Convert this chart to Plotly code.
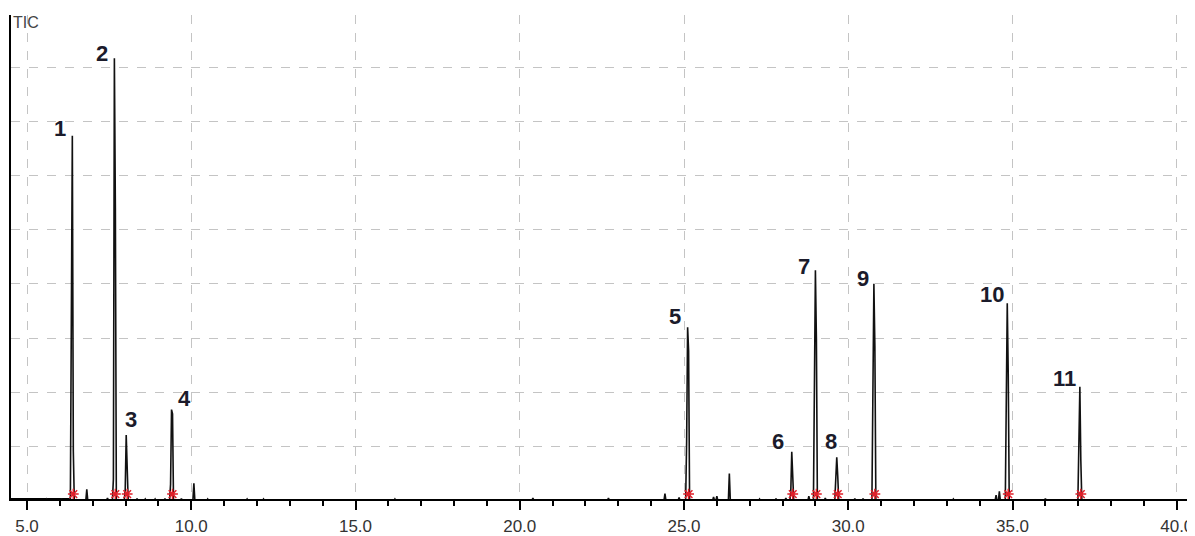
import plotly.graph_objects as go

# ---- data (retention time in min, TIC intensity in arbitrary units) ----
peak_labels = ["1", "2", "3", "4", "5", "6", "7", "8", "9", "10", "11"]
peak_rt = [6.38, 7.66, 8.02, 9.40, 25.11, 28.28, 29.00, 29.65, 30.78, 34.84, 37.05]
peak_apex = [6.73, 8.16, 1.21, 1.68, 3.20, 0.90, 4.25, 0.80, 4.00, 3.64, 2.10]
peak_left = [4.02, 0.40, 0.20, 0.30, 1.10, 0.15, 2.38, 0.30, 2.38, 2.19, 1.24]
peak_right = [0.91, 5.40, 0.57, 1.60, 2.76, 0.30, 2.98, 0.45, 2.86, 2.34, 0.73]

minor_rt = [5.6, 6.05, 6.82, 7.45, 8.35, 8.6, 8.9, 9.2, 9.7, 10.08, 10.5, 11.7, 12.2,
            16.2, 20.4, 22.7, 24.42, 24.85, 25.9, 26.0, 26.38, 27.3, 27.8, 28.1, 28.8,
            29.3, 30.2, 30.45, 33.2, 34.5, 34.60, 36.0]
minor_h = [0.03, 0.04, 0.21, 0.05, 0.04, 0.03, 0.03, 0.04, 0.04, 0.32, 0.03, 0.03, 0.03,
           0.03, 0.05, 0.05, 0.13, 0.06, 0.07, 0.08, 0.50, 0.03, 0.04, 0.05, 0.08,
           0.05, 0.04, 0.04, 0.03, 0.10, 0.17, 0.04]

x_ticks = [5, 10, 15, 20, 25, 30, 35, 40]
x_tick_text = ["5.0", "10.0", "15.0", "20.0", "25.0", "30.0", "35.0", "40.0"]

# label offsets in pixels (dx, dy up) relative to the apex
label_dx = [-12, -12, 5, 13, -13, -14, -11, -6, -11, -15, -15]
label_dy = [7, 5, 16, 11, 11, 10, 4, 16, 5, 9, 8]

# ---- build chromatogram spikes ----
dt = 0.03
xs, ys = [], []
for rt, a, l, r in zip(peak_rt, peak_apex, peak_left, peak_right):
    xs += [rt - 2 * dt, rt - dt, rt, rt + dt, rt + 2 * dt, None]
    ys += [0, l, a, r, 0, None]
for rt, h in zip(minor_rt, minor_h):
    xs += [rt - dt, rt, rt + dt, None]
    ys += [0, h, 0, None]

fig = go.Figure()
# baseline noise at the start
fig.add_trace(go.Scatter(x=[4.5, 6.3], y=[0.03, 0.03], mode="lines",
                         line=dict(color="black", width=2), hoverinfo="skip"))
fig.add_trace(go.Scatter(x=xs, y=ys, mode="lines",
                         line=dict(color="#111111", width=1.6), hoverinfo="skip"))
# integration markers
fig.add_trace(go.Scatter(x=[r + 0.03 for r in peak_rt], y=[0.12] * len(peak_rt),
                         mode="markers",
                         marker=dict(symbol="asterisk-open", size=9, color="#e0202a",
                                     line=dict(color="#e0202a", width=1.5)),
                         hoverinfo="skip"))

for lab, rt, a, dx, dy in zip(peak_labels, peak_rt, peak_apex, label_dx, label_dy):
    fig.add_annotation(x=rt, y=a, text="<b>" + lab + "</b>", showarrow=False,
                       xanchor="center", yanchor="middle", xshift=dx, yshift=dy,
                       font=dict(family="Liberation Sans", size=22, color="#1b1b2b"))

fig.add_annotation(xref="paper", yref="paper", x=0, y=1, text="TIC", showarrow=False,
                   xanchor="left", yanchor="top", xshift=0, yshift=3,
                   font=dict(family="Liberation Sans", size=16, color="#444444"))

tick_font = dict(family="Liberation Sans", size=17, color="#333333")

# page body has an 8px margin: shrink the figure and margins to compensate
fig.update_layout(
    width=1187, height=528,
    margin=dict(l=3, r=0, t=7, b=33),
    paper_bgcolor="white", plot_bgcolor="white",
    showlegend=False,
    xaxis=dict(range=[4.513, 40.555], tickvals=x_ticks, ticktext=x_tick_text,
               showline=True, linecolor="black", linewidth=2,
               ticks="outside", ticklen=9, tickwidth=1.5, tickcolor="black",
               minor=dict(dtick=1, tick0=0, ticks="outside", ticklen=5,
                          tickcolor="black", showgrid=False),
               showgrid=True, gridcolor="#c4c4c4", griddash="dash", gridwidth=1,
               zeroline=False, ticklabelstandoff=2,
               tickfont=tick_font),
    yaxis=dict(range=[0.03, 8.96], dtick=1, tick0=0, showticklabels=False,
               showline=True, linecolor="black", linewidth=1.5, ticks="",
               showgrid=True, gridcolor="#c4c4c4", griddash="dash", gridwidth=1,
               zeroline=False),
)

fig.write_html("out.html")
